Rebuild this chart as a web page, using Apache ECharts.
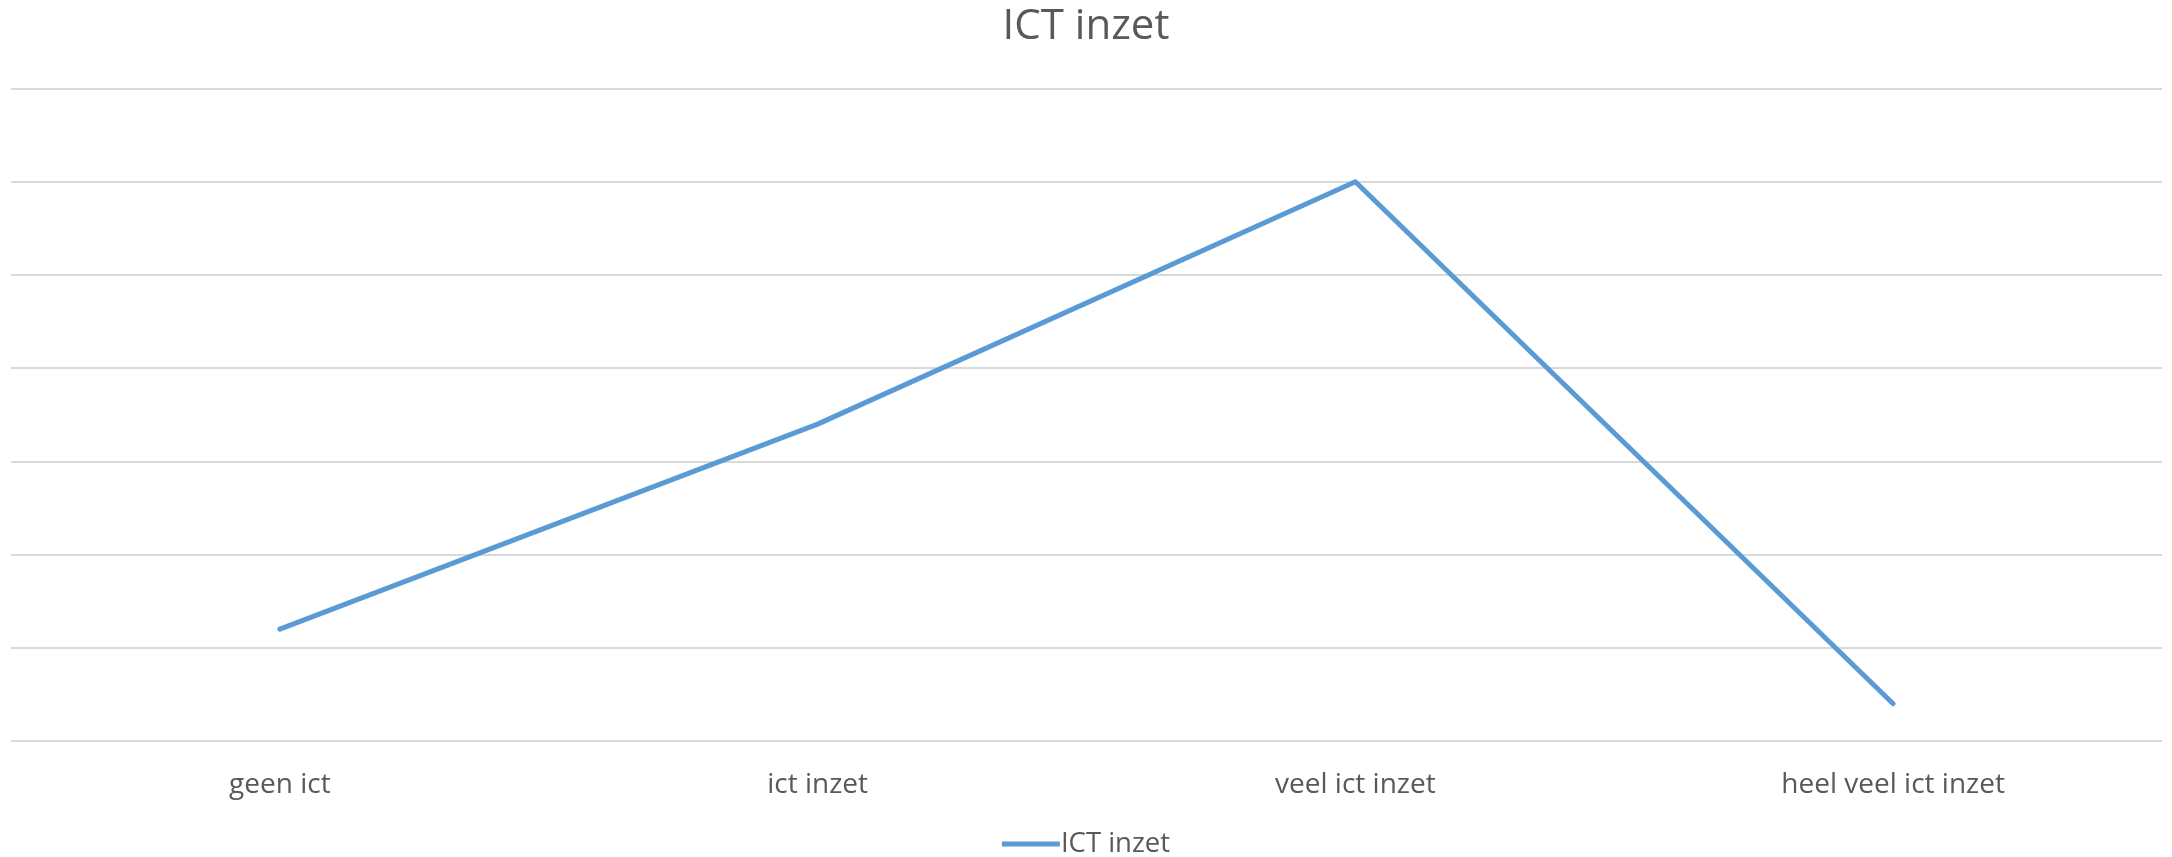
<!DOCTYPE html>
<html>
<head>
<meta charset="utf-8">
<script src="https://cdn.jsdelivr.net/npm/echarts@6/dist/echarts.min.js"></script>
<style>
  html, body { margin: 0; padding: 0; background: #fff; }
  #chart { width: 2172px; height: 857px; }
</style>
</head>
<body>
<div id="chart"></div>
<script>
// categorieen en waarden
const categories = ['geen ict', 'ict inzet', 'veel ict inzet', 'heel veel ict inzet'];
const ictInzet = [1.2, 3.4, 6.0, 0.4];
const seriesName = 'ICT inzet';

const textColor = '#595959';
const fontFamily = '"Open Sans", sans-serif';

const chart = echarts.init(document.getElementById('chart'));

chart.setOption({
  backgroundColor: '#fff',
  animation: false,
  title: {
    text: 'ICT inzet',
    left: 'center',
    top: 1,
    textStyle: { color: textColor, fontSize: 42, fontWeight: 'normal', fontFamily: fontFamily }
  },
  legend: {
    data: [seriesName],
    bottom: -6,
    left: 'center',
    icon: 'rect',
    itemWidth: 58,
    itemHeight: 5,
    textStyle: { color: textColor, fontSize: 27.5, fontFamily: fontFamily, padding: [0, 0, 0, -4] }
  },
  grid: {
    left: 11,
    right: 10,
    top: 88.6,
    bottom: 116,
    containLabel: false
  },
  xAxis: {
    type: 'category',
    data: categories,
    boundaryGap: true,
    axisLine: { show: false },
    axisTick: { show: false },
    axisLabel: { color: textColor, fontSize: 28, fontFamily: fontFamily, margin: 30 }
  },
  yAxis: {
    type: 'value',
    min: 0,
    max: 7,
    interval: 1,
    axisLabel: { show: false },
    axisLine: { show: false },
    axisTick: { show: false },
    splitLine: { lineStyle: { color: '#d9d9d9', width: 2 } }
  },
  series: [{
    name: seriesName,
    type: 'line',
    data: ictInzet,
    showSymbol: false,
    symbol: 'none',
    lineStyle: { color: '#5b9bd5', width: 5, cap: 'round', join: 'round' },
    itemStyle: { color: '#5b9bd5' }
  }]
});
</script>
</body>
</html>
